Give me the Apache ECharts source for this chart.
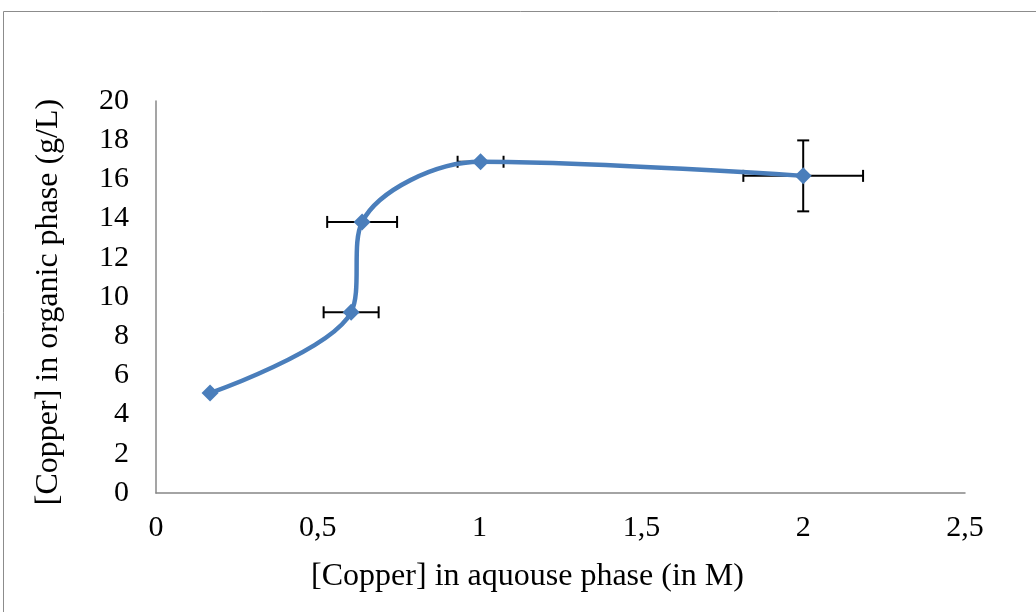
<!DOCTYPE html>
<html><head><meta charset="utf-8">
<script src="https://cdn.jsdelivr.net/npm/echarts@6/dist/echarts.min.js"></script>
<style>html,body{margin:0;padding:0;background:#fff}#c{width:1036px;height:612px}</style>
</head><body><div id="c"></div>
<script>
const xVals = [0.167, 0.603, 0.637, 1.003, 2.0];
const yVals = [5.1, 9.22, 13.83, 16.9, 16.18];
const xErr = [0, 0.085, 0.108, 0.071, 0.185];
const yErr = [0, 0, 0, 0, 1.81];
const xTicks = [0, 0.5, 1, 1.5, 2, 2.5];
const yTicks = [0, 2, 4, 6, 8, 10, 12, 14, 16, 18, 20];

const pts = xVals.map((x, i) => [x, yVals[i]]);
const errData = xVals.map((x, i) => [x, yVals[i], xErr[i], yErr[i]]);
const font = '"Liberation Serif", "Times New Roman", serif';

const chart = echarts.init(document.getElementById('c'), null, {renderer: 'canvas'});
chart.setOption({
  animation: false,
  backgroundColor: '#fff',
  graphic: [{type: 'rect', shape: {x: 3.5, y: 11.5, width: 1100, height: 700}, style: {fill: 'none', stroke: '#8c8c8c', lineWidth: 1}}],
  grid: {left: 156, right: 71, top: 101, bottom: 119, containLabel: false},
  xAxis: {
    type: 'value', min: 0, max: 2.5, interval: 0.5,
    name: '[Copper] in aquouse phase (in M)', nameLocation: 'middle', nameGap: 68,
    nameTextStyle: {fontFamily: font, fontSize: 32, color: '#000', padding: [0, 66, 0, 0]},
    axisLine: {lineStyle: {color: '#878787', width: 1.5}},
    axisTick: {show: false}, splitLine: {show: false},
    axisLabel: {fontFamily: font, fontSize: 30, color: '#000', margin: 20,
      formatter: v => String(v).replace('.', ',')}
  },
  yAxis: {
    type: 'value', min: 0, max: 20, interval: 2,
    name: '[Copper] in organic phase (g/L)', nameLocation: 'middle', nameGap: 91,
    nameTextStyle: {fontFamily: font, fontSize: 32, color: '#000', padding: [0, 10, 0, 0]},
    axisLine: {show: true, lineStyle: {color: '#878787', width: 1.5}},
    axisTick: {show: false}, splitLine: {show: false},
    axisLabel: {fontFamily: font, fontSize: 30, color: '#000', margin: 27}
  },
  series: [
    {
      type: 'custom', z: 1,
      renderItem: function (params, api) {
        const x = api.value(0), y = api.value(1), ex = api.value(2), ey = api.value(3);
        const c = api.coord([x, y]);
        const children = [];
        const st = {stroke: '#000', lineWidth: 2};
        const cap = 6;
        if (ex > 0) {
          const l = api.coord([x - ex, y]), r = api.coord([x + ex, y]);
          children.push({type: 'line', shape: {x1: l[0], y1: c[1], x2: r[0], y2: c[1]}, style: st});
          children.push({type: 'line', shape: {x1: l[0], y1: c[1] - cap, x2: l[0], y2: c[1] + cap}, style: st});
          children.push({type: 'line', shape: {x1: r[0], y1: c[1] - cap, x2: r[0], y2: c[1] + cap}, style: st});
        }
        if (ey > 0) {
          const t = api.coord([x, y + ey]), b = api.coord([x, y - ey]);
          children.push({type: 'line', shape: {x1: c[0], y1: t[1], x2: c[0], y2: b[1]}, style: st});
          children.push({type: 'line', shape: {x1: c[0] - cap, y1: t[1], x2: c[0] + cap, y2: t[1]}, style: st});
          children.push({type: 'line', shape: {x1: c[0] - cap, y1: b[1], x2: c[0] + cap, y2: b[1]}, style: st});
        }
        return {type: 'group', children: children};
      },
      data: errData
    },
    {
      type: 'line', z: 3, data: pts, smooth: 0.35,
      symbol: 'diamond', symbolSize: 17,
      lineStyle: {color: '#4a7ebb', width: 4.5},
      itemStyle: {color: '#4a7ebb'}
    }
  ]
});
</script></body></html>
